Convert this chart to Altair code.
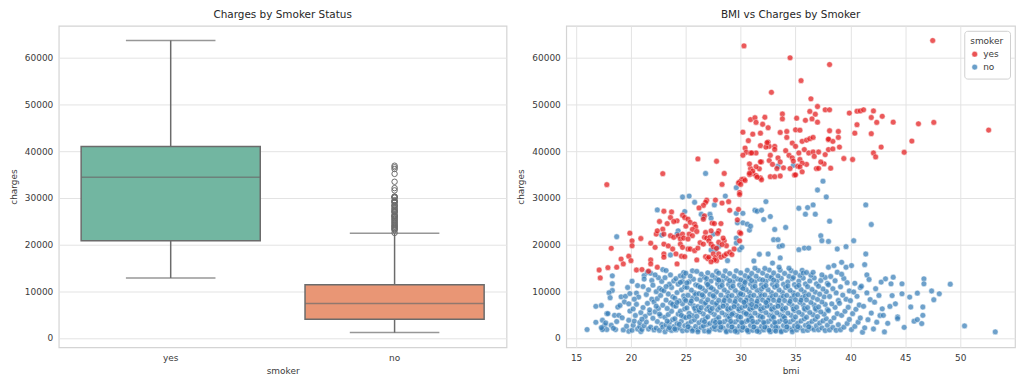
import altair as alt
import pandas as pd

# ---------------- Box plot data (left panel) ----------------
smoker_cats = ["yes", "no"]
box_q1 = [20826, 3986]
box_median = [34456, 7345]
box_q3 = [41019, 11363]
box_low = [12829, 1122]
box_high = [63770, 22412]
no_outliers = [22493, 23082, 23288, 23401, 23568, 23807, 23887, 24106, 24227, 24513,
               24667, 24915, 25081, 25333, 25517, 25678, 25992, 26018, 26140, 26236,
               26467, 26926, 27000, 27117, 27346, 27533, 27724, 27941, 28287, 28340,
               28468, 28923, 29141, 29186, 29330, 29523, 30063, 30166, 30260, 30284,
               31620, 32108, 33471, 35160, 36197, 36580, 36910]

# ---------------- Scatter data (right panel) ----------------
red_points = [
    (30.3, 62600), (34.5, 60050), (38.1, 58600), (47.5, 63750), (35.5, 55150), (32.8, 52650),
    (36.4, 51250), (52.6, 44550), (37.0, 49600), (37.7, 48900), (38.1, 48900), (36.3, 48550),
    (36.8, 47950), (33.8, 48000), (39.9, 48200), (40.6, 48600), (40.9, 48650), (41.2, 48900),
    (42.1, 48650), (41.9, 47250), (42.9, 47500), (42.4, 46200), (43.9, 46250), (46.2, 45900),
    (47.6, 46200), (40.6, 45700), (30.9, 46800), (31.3, 47200), (32.2, 47300), (31.4, 46200),
    (32.0, 45800), (32.5, 45050), (33.8, 46950), (35.1, 47100), (35.9, 46650), (36.5, 46950),
    (37.0, 46250), (30.2, 44100), (30.7, 42280), (31.1, 43680), (31.8, 43890), (32.5, 41980),
    (31.8, 41210), (32.6, 41060), (33.1, 41060), (33.6, 44040), (34.2, 44250), (34.2, 42980),
    (34.7, 41770), (35.0, 44610), (35.4, 44530), (35.6, 42130), (36.0, 42400), (36.3, 42700),
    (36.6, 42980), (30.4, 40700), (30.5, 39790), (30.9, 39640), (31.4, 39640), (31.9, 37720),
    (32.6, 38020), (33.4, 38580), (33.6, 37720), (34.1, 40140), (34.4, 39150), (34.7, 38580),
    (35.0, 41060), (35.3, 39640), (35.8, 40360), (36.2, 39640), (36.6, 39850), (37.1, 39850),
    (37.7, 39290), (38.0, 40360), (38.0, 42490), (38.1, 44400), (38.9, 44250), (38.4, 42130),
    (38.0, 42620), (38.9, 42980), (38.4, 40500), (39.0, 40910), (40.4, 43890), (41.9, 43770),
    (42.8, 40910), (42.1, 39640), (42.3, 38790), (44.9, 39790), (45.6, 42200), (37.6, 37300),
    (38.2, 36380), (39.4, 38450), (40.2, 38240), (36.0, 37200), (36.7, 38900), (35.4, 38250),
    (35.6, 37450), (35.2, 36800), (35.4, 36650), (34.9, 34900), (35.0, 34950), (35.6, 35600),
    (34.5, 36300), (33.9, 36450), (33.3, 36300), (32.9, 37200), (34.8, 37900), (31.8, 37750),
    (31.7, 36250), (31.4, 36700), (30.9, 36300), (31.1, 35200), (30.8, 35000), (30.8, 37300),
    (31.1, 35750), (31.4, 34800), (31.8, 34300), (31.9, 33900), (31.5, 34450), (30.8, 35300),
    (30.3, 34050), (30.1, 33950), (29.9, 33450), (29.8, 33200), (30.4, 33750), (30.0, 32900),
    (29.9, 31150), (29.9, 30750), (29.8, 27550), (29.7, 25300), (29.9, 22600), (30.0, 22400),
    (32.7, 34550), (33.1, 34550), (33.6, 34700), (36.9, 36300), (37.1, 36350), (37.3, 37700),
    (32.3, 40900), (32.4, 41850), (33.1, 40400), (32.7, 39150), (31.0, 39650), (30.2, 39150),
    (26.1, 38360), (27.8, 37870), (28.5, 35250), (17.8, 32850), (22.9, 35200), (28.3, 32900),
    (26.9, 29500), (26.8, 29050), (27.7, 29550), (28.3, 28900), (28.9, 29200), (26.6, 28400),
    (26.2, 27850), (29.0, 27350), (23.0, 27150), (23.7, 27000), (24.7, 26300), (24.9, 25800),
    (24.2, 25100), (23.6, 25800), (23.9, 24950), (22.6, 24950), (23.3, 24500), (22.9, 23300),
    (22.3, 22250), (23.0, 22250), (26.7, 26150), (26.6, 25450), (27.4, 24600), (27.6, 24500),
    (27.3, 22950), (26.8, 22600), (28.2, 24500), (28.0, 22950), (27.9, 22400), (19.9, 22450),
    (20.9, 21300), (20.1, 20800), (20.1, 19750), (18.2, 19200), (18.7, 15150), (19.1, 16900),
    (19.3, 15850), (19.8, 17500), (20.0, 16550), (17.1, 14550), (17.2, 12850), (20.5, 14550),
    (21.8, 20300), (22.2, 19400), (21.8, 16700), (21.8, 15850), (21.6, 14300), (22.4, 15150),
    (23.0, 18000), (23.0, 17300), (23.0, 20100), (23.4, 19700), (23.8, 19050), (24.1, 18000),
    (23.6, 21900), (23.9, 21550), (24.3, 21900), (24.5, 21200), (24.7, 22250), (24.8, 21400),
    (25.2, 25450), (25.4, 24750), (25.0, 23950), (25.8, 24400), (25.9, 23800), (25.6, 23250),
    (26.0, 22800), (25.3, 22250), (25.6, 21900), (25.2, 21200), (24.5, 20100), (24.7, 19400),
    (25.2, 19050), (25.4, 19050), (24.6, 17500), (24.9, 17400), (24.2, 15850), (25.8, 18700),
    (26.1, 19250), (26.0, 16700), (26.3, 20400), (26.6, 20100), (26.7, 21550), (26.9, 21400),
    (27.2, 21550), (27.1, 20800), (26.8, 17400), (27.0, 17000), (27.1, 17300), (27.3, 20100),
    (27.5, 19550), (27.8, 19200), (27.5, 18000), (27.7, 17200), (27.8, 16550), (28.0, 18000),
    (28.2, 17300), (28.5, 17600), (28.7, 18000), (28.5, 20800), (28.7, 19750), (28.0, 20500),
    (29.0, 18350), (29.2, 17850), (29.4, 19050), (29.9, 20800), (27.6, 16700), (27.3, 16300),
    (28.3, 20000), (28.4, 21400), (22.4, 22950), (17.9, 15050), (21.0, 14650),
]

blue_points = [
    # scattered high values
    (18.7, 21680), (22.4, 27430), (22.8, 22030), (23.6, 17770), (24.3, 22950), (24.2, 22250),
    (24.7, 30200), (25.3, 30400), (24.9, 27080), (25.8, 29070), (26.8, 35250), (26.4, 26500),
    (26.6, 25800), (27.2, 26500), (27.3, 25650), (27.6, 28500), (28.6, 30400), (28.8, 16550),
    (27.5, 22250), (27.7, 18900), (28.0, 19600), (27.3, 18830), (29.6, 21400), (29.6, 20330),
    (29.9, 18900), (30.1, 19400), (29.6, 32200), (29.6, 26700), (30.2, 26700), (29.7, 24660),
    (30.2, 24660), (30.6, 24380), (30.8, 23100), (30.9, 23950), (31.3, 27360), (31.5, 27150),
    (31.9, 27360), (32.1, 25370), (32.3, 29210), (32.7, 26010), (33.1, 23240), (33.0, 21040),
    (33.4, 21040), (33.5, 19600), (33.8, 19760), (33.6, 17130), (34.1, 23670), (33.4, 36800),
    (34.8, 37000), (35.3, 27790), (36.1, 27930), (36.6, 28500), (35.9, 26510), (36.8, 26510),
    (37.0, 31700), (37.5, 33600), (37.8, 30210), (38.1, 25020), (35.3, 18900), (35.8, 19260),
    (36.2, 19260), (37.3, 21890), (37.4, 20820), (38.0, 20680), (38.8, 19050), (39.6, 19550),
    (40.3, 20820), (41.4, 28500), (41.9, 24300), (41.4, 17980), (41.3, 15700), (41.5, 13500),
    (38.0, 15140), (38.5, 15500), (39.2, 16200), (39.6, 15140), (40.1, 15500), (21.1, 11000),
    (21.2, 13350), (21.5, 14070), (21.8, 13860), (22.9, 14640), (23.2, 14430),
    # bmi 16-22
    (16.0, 1780), (16.8, 6750), (16.8, 3340), (17.3, 6950), (17.4, 3770), (17.4, 1990),
    (17.6, 2700), (17.8, 1780), (17.4, 1780), (17.8, 5200), (17.3, 2200), (17.7, 3200),
    (18.3, 13300), (18.3, 11600), (18.3, 10150), (18.0, 9670), (17.9, 5200), (18.5, 4830),
    (18.9, 4830), (18.6, 1780), (18.2, 2700), (18.4, 2050), (18.8, 6600), (18.1, 8600),
    (18.7, 3500), (19.1, 8800), (19.5, 8900), (19.4, 7700), (19.0, 6950), (19.8, 7300),
    (19.9, 5750), (19.8, 3770), (19.8, 1420), (19.3, 1700), (19.6, 2500), (19.2, 4300),
    (19.9, 9500), (19.7, 10800), (20.1, 12150), (20.1, 1630), (20.2, 2700), (20.5, 9600),
    (20.7, 8750), (20.3, 3600), (20.4, 4800), (20.6, 1900), (20.8, 2400), (20.2, 6200),
    (20.9, 5400), (20.5, 7200), (20.8, 3300), (20.3, 8300), (20.6, 11200), (20.9, 1350),
    (21.0, 1800), (21.2, 2600), (21.4, 3400), (21.6, 1900), (21.8, 2300), (21.3, 4600),
    (21.7, 5300), (21.1, 6500), (21.5, 7400), (21.9, 8300), (21.4, 9300), (21.6, 10300),
    (21.9, 12300), (21.2, 12600), (21.7, 6000), (21.0, 4000),
    # bmi 22-26
    (22.1, 1700), (22.3, 2100), (22.6, 1600), (22.8, 2900), (22.4, 3500), (22.0, 4200),
    (22.7, 4700), (22.2, 5600), (22.5, 6300), (22.9, 7000), (22.1, 7700), (22.4, 8400),
    (22.7, 9100), (22.3, 9900), (22.6, 10600), (22.0, 11300), (22.8, 12100), (22.5, 12900),
    (22.2, 13500), (22.9, 2300), (22.6, 5100), (22.3, 6800), (22.8, 10300),
    (23.1, 1300), (23.4, 1900), (23.7, 1600), (23.9, 2400), (23.2, 2800), (23.5, 3300),
    (23.8, 3900), (23.1, 4400), (23.4, 5000), (23.7, 5700), (23.3, 6300), (23.9, 6900),
    (23.6, 7500), (23.2, 8100), (23.8, 8800), (23.4, 9400), (23.0, 10100), (23.7, 10800),
    (23.5, 11500), (23.9, 12200), (23.1, 12900), (23.6, 13500), (23.3, 3600), (23.8, 7200),
    (23.2, 11000), (23.5, 2200),
    (24.1, 1700), (24.4, 2100), (24.7, 1500), (24.9, 2600), (24.2, 3100), (24.6, 3600),
    (24.0, 4100), (24.8, 4500), (24.3, 5100), (24.5, 5700), (24.9, 6200), (24.1, 6800),
    (24.7, 7300), (24.4, 7900), (24.0, 8500), (24.8, 9000), (24.2, 9700), (24.6, 10300),
    (24.9, 10900), (24.3, 11500), (24.7, 12100), (24.1, 12700), (24.5, 13300), (24.8, 14000),
    (24.4, 2900), (24.6, 4800), (24.2, 7600), (24.9, 8300), (24.5, 11900), (24.0, 1900),
    (24.8, 13200),
    (25.1, 1620), (25.4, 2040), (25.7, 1810), (25.9, 2470), (25.2, 3020), (25.5, 3530),
    (25.8, 3870), (25.0, 4340), (25.6, 4780), (25.3, 5260), (25.9, 5830), (25.1, 6420),
    (25.7, 6880), (25.4, 7430), (25.0, 7980), (25.6, 8570), (25.2, 9130), (25.8, 9660),
    (25.5, 10240), (25.1, 10830), (25.9, 11370), (25.3, 12030), (25.7, 12580), (25.4, 13240),
    (25.0, 13860), (25.6, 14380), (25.2, 2380), (25.8, 6330), (25.5, 7870), (25.9, 9280),
    (25.1, 11790), (25.6, 1480), (25.3, 4530),
    # bmi 26-30
    (26.1, 1720), (26.4, 2240), (26.7, 1480), (26.9, 2860), (26.2, 3250), (26.5, 3740),
    (26.8, 4190), (26.0, 4630), (26.6, 5120), (26.3, 5580), (26.9, 6140), (26.1, 6690),
    (26.7, 7230), (26.4, 7810), (26.0, 8320), (26.6, 8870), (26.2, 9480), (26.8, 10040),
    (26.5, 10620), (26.1, 11190), (26.9, 11760), (26.3, 12420), (26.7, 12980), (26.4, 13660),
    (26.0, 14250), (26.6, 2530), (26.2, 5930), (26.8, 7520), (26.5, 9210), (26.3, 10880),
    (26.9, 12710), (26.1, 1290), (26.7, 3480), (26.4, 6470),
    (27.1, 1610), (27.4, 1980), (27.7, 1830), (27.9, 2720), (27.2, 3080), (27.5, 3620),
    (27.8, 3990), (27.0, 4510), (27.6, 5010), (27.3, 5470), (27.9, 6030), (27.1, 6580),
    (27.7, 7090), (27.4, 7640), (27.0, 8170), (27.6, 8740), (27.2, 9320), (27.8, 9830),
    (27.5, 10390), (27.1, 10960), (27.9, 11620), (27.3, 12180), (27.7, 12830), (27.4, 13390),
    (27.0, 13950), (27.8, 14230), (27.6, 2420), (27.2, 5840), (27.8, 7410), (27.5, 9030),
    (27.3, 10760), (27.9, 12520), (27.1, 1330), (27.7, 3310), (27.4, 6310), (27.0, 11420),
    (28.1, 1690), (28.4, 2130), (28.7, 1520), (28.9, 2610), (28.2, 3040), (28.5, 3470),
    (28.8, 3930), (28.0, 4380), (28.6, 4920), (28.3, 5360), (28.9, 5940), (28.1, 6520),
    (28.7, 6980), (28.4, 7530), (28.0, 8060), (28.6, 8620), (28.2, 9170), (28.8, 9740),
    (28.5, 10280), (28.1, 10910), (28.9, 11480), (28.3, 12090), (28.7, 12740), (28.4, 13280),
    (28.0, 13870), (28.6, 14330), (28.2, 2290), (28.8, 6240), (28.5, 8010), (28.9, 8880),
    (28.3, 11230), (28.7, 1310), (28.1, 3340), (28.4, 6790), (28.0, 12380), (28.9, 4690),
    (29.1, 1580), (29.4, 2020), (29.7, 1790), (29.9, 2530), (29.2, 2980), (29.5, 3420),
    (29.8, 3880), (29.0, 4320), (29.6, 4830), (29.3, 5290), (29.9, 5820), (29.1, 6370),
    (29.7, 6920), (29.4, 7420), (29.0, 7960), (29.6, 8480), (29.2, 9080), (29.8, 9620),
    (29.5, 10170), (29.1, 10790), (29.9, 11370), (29.3, 11980), (29.7, 12630), (29.4, 13180),
    (29.0, 13790), (29.6, 14380), (29.2, 2330), (29.8, 6180), (29.5, 7790), (29.9, 9040),
    (29.3, 11090), (29.7, 1280), (29.1, 3520), (29.4, 6680), (29.0, 12270), (29.8, 4570),
    (29.5, 1420), (29.2, 5030),
    # bmi 30-34
    (30.1, 1660), (30.4, 2090), (30.7, 1540), (30.9, 2640), (30.2, 3130), (30.5, 3560),
    (30.8, 4020), (30.0, 4460), (30.6, 4970), (30.3, 5430), (30.9, 5960), (30.1, 6480),
    (30.7, 7040), (30.4, 7560), (30.0, 8090), (30.6, 8640), (30.2, 9230), (30.8, 9760),
    (30.5, 10340), (30.1, 10870), (30.9, 11530), (30.3, 12140), (30.7, 12690), (30.4, 13340),
    (30.0, 13920), (30.6, 14470), (30.2, 2270), (30.8, 6230), (30.5, 8030), (30.9, 8930),
    (30.3, 11180), (30.7, 1330), (30.1, 3290), (30.4, 6810), (30.0, 12420), (30.9, 4730),
    (30.6, 1610), (30.3, 7630), (30.8, 13020), (30.2, 10540), (30.5, 5190), (30.7, 3770),
    (30.0, 9450), (30.4, 11890),
    (31.1, 1630), (31.4, 2010), (31.7, 1770), (31.9, 2480), (31.2, 3020), (31.5, 3390),
    (31.8, 3920), (31.0, 4280), (31.6, 4810), (31.3, 5320), (31.9, 5790), (31.1, 6410),
    (31.7, 6930), (31.4, 7380), (31.0, 8020), (31.6, 8530), (31.2, 9140), (31.8, 9580),
    (31.5, 10230), (31.1, 10820), (31.9, 11380), (31.3, 12030), (31.7, 12590), (31.4, 13230),
    (31.0, 13820), (31.6, 14420), (31.2, 2320), (31.8, 6170), (31.5, 7820), (31.9, 9010),
    (31.3, 11070), (31.7, 1290), (31.1, 3530), (31.4, 6720), (31.0, 12290), (31.8, 4610),
    (31.5, 1430), (31.2, 16480), (31.7, 17920), (31.3, 14930), (31.9, 10500), (31.0, 7150),
    (32.1, 1710), (32.4, 2150), (32.7, 1490), (32.9, 2570), (32.2, 3090), (32.5, 3510),
    (32.8, 4040), (32.0, 4420), (32.6, 4880), (32.3, 5410), (32.9, 5920), (32.1, 6460),
    (32.7, 7010), (32.4, 7480), (32.0, 8110), (32.6, 8590), (32.2, 9190), (32.8, 9690),
    (32.5, 10310), (32.1, 10930), (32.9, 11470), (32.3, 12130), (32.7, 12720), (32.4, 13310),
    (32.0, 13880), (32.6, 14540), (32.2, 2310), (32.8, 6190), (32.5, 8040), (32.9, 8870),
    (32.3, 11210), (32.7, 1320), (32.1, 3310), (32.4, 6830), (32.0, 12410), (32.9, 4720),
    (32.6, 1620), (32.3, 7590), (32.8, 13040), (32.5, 17980), (32.9, 16040), (32.2, 14880),
    (33.1, 1680), (33.4, 2120), (33.7, 1510), (33.9, 2630), (33.2, 3060), (33.5, 3480),
    (33.8, 3960), (33.0, 4390), (33.6, 4940), (33.3, 5380), (33.9, 5910), (33.1, 6540),
    (33.7, 6990), (33.4, 7550), (33.0, 8070), (33.6, 8610), (33.2, 9210), (33.8, 9720),
    (33.5, 10260), (33.1, 10890), (33.9, 11490), (33.3, 12110), (33.7, 12760), (33.4, 13290),
    (33.0, 13910), (33.6, 14510), (33.2, 2280), (33.8, 6210), (33.5, 8020), (33.9, 8910),
    (33.3, 11190), (33.7, 1310), (33.1, 3320), (33.4, 6770), (33.0, 12390), (33.9, 4680),
    (33.5, 15140), (33.2, 1450),
    # bmi 34-38
    (34.1, 1640), (34.4, 2060), (34.7, 1790), (34.9, 2540), (34.2, 3010), (34.5, 3430),
    (34.8, 3890), (34.0, 4340), (34.6, 4850), (34.3, 5310), (34.9, 5840), (34.1, 6390),
    (34.7, 6940), (34.4, 7430), (34.0, 7990), (34.6, 8510), (34.2, 9110), (34.8, 9640),
    (34.5, 10190), (34.1, 10810), (34.9, 11410), (34.3, 12010), (34.7, 12660), (34.4, 13210),
    (34.0, 13810), (34.6, 14390), (34.2, 2340), (34.8, 6160), (34.5, 7810), (34.9, 9060),
    (34.3, 11120), (34.7, 1300), (34.1, 3540), (34.4, 14920), (34.8, 12950),
    (35.1, 1700), (35.4, 2180), (35.7, 1530), (35.9, 2690), (35.2, 3150), (35.5, 3610),
    (35.8, 4080), (35.0, 4490), (35.6, 5020), (35.3, 5480), (35.9, 6010), (35.1, 6560),
    (35.7, 7080), (35.4, 7620), (35.0, 8150), (35.6, 8690), (35.2, 9260), (35.8, 9790),
    (35.5, 10360), (35.1, 10940), (35.9, 11560), (35.3, 12170), (35.7, 12810), (35.4, 13370),
    (35.0, 13960), (35.6, 14480), (35.2, 2390), (35.8, 6280), (35.5, 8060), (35.9, 8960),
    (35.3, 11260), (35.7, 13900),
    (36.1, 1650), (36.4, 2080), (36.7, 1760), (36.9, 2590), (36.2, 3070), (36.5, 3530),
    (36.8, 3980), (36.0, 4430), (36.6, 4960), (36.3, 5440), (36.9, 5970), (36.1, 6510),
    (36.7, 7050), (36.4, 7590), (36.0, 8130), (36.6, 8660), (36.2, 9240), (36.8, 9810),
    (36.5, 10380), (36.1, 10970), (36.9, 11590), (36.3, 12200), (36.7, 12850), (36.4, 13420),
    (36.0, 14010), (36.6, 14050), (36.2, 2360), (36.8, 6290),
    (37.1, 1720), (37.4, 2140), (37.7, 1560), (37.9, 2700), (37.2, 3180), (37.5, 3640),
    (37.8, 4110), (37.0, 4560), (37.6, 5080), (37.3, 5560), (37.9, 6090), (37.1, 6630),
    (37.7, 7170), (37.4, 7700), (37.0, 8240), (37.6, 8790), (37.2, 9360), (37.8, 9900),
    (37.5, 10480), (37.1, 11060), (37.9, 11680), (37.3, 12300), (37.7, 12940), (37.4, 13500),
    # bmi 38+
    (38.1, 1690), (38.4, 2230), (38.7, 1610), (38.9, 2810), (38.2, 3470), (38.5, 4290),
    (38.8, 5180), (38.0, 5830), (38.6, 6540), (38.3, 7290), (38.9, 8010), (38.1, 8870),
    (38.7, 9640), (38.4, 10530), (38.0, 11380), (38.6, 12240), (38.2, 13160), (38.8, 14090),
    (39.1, 1740), (39.4, 2290), (39.7, 3080), (39.9, 3960), (39.2, 4820), (39.5, 5690),
    (39.8, 6560), (39.0, 7410), (39.6, 8290), (39.3, 9180), (39.9, 10060), (39.1, 10940),
    (39.7, 11830), (39.4, 12740), (39.2, 13640),
    (40.1, 1780), (40.4, 2460), (40.7, 3350), (40.9, 4260), (40.2, 5190), (40.5, 6120),
    (40.8, 7040), (40.0, 7980), (40.6, 8910), (40.3, 9830), (40.9, 10770), (40.4, 11700),
    (41.1, 1210), (41.3, 2150), (41.6, 3890), (41.9, 5320), (41.2, 6770), (41.8, 8210),
    (41.5, 9640), (41.0, 11080), (41.7, 12510),
    (42.1, 1900), (42.4, 3360), (42.7, 4790), (42.9, 6220), (42.2, 7660), (42.6, 9090),
    (42.3, 10530), (42.8, 11960),
    (43.2, 12650), (43.9, 13000), (43.7, 11580), (43.0, 4830), (43.1, 1280), (43.4, 3120),
    (43.6, 6740), (43.8, 9060), (44.7, 11580), (44.7, 9450), (44.3, 4480), (44.3, 4120),
    (44.1, 7300), (44.9, 2250), (45.4, 8740), (45.5, 6610), (45.8, 3570), (46.1, 9590),
    (46.7, 12650), (46.7, 11580), (46.1, 3910), (46.6, 6610), (46.6, 4830), (46.5, 3060),
    (47.6, 8170), (48.1, 9450), (49.1, 11510), (50.4, 2560), (53.2, 1280), (47.4, 10050),
]

# ---------------- Build tables ----------------
box_df = pd.DataFrame({"smoker": smoker_cats, "q1": box_q1, "median": box_median,
                       "q3": box_q3, "low": box_low, "high": box_high})
out_df = pd.DataFrame({"smoker": ["no"] * len(no_outliers), "charges": no_outliers})
scatter_df = pd.DataFrame(
    [{"bmi": b, "charges": c, "smoker": "no"} for b, c in blue_points]
    + [{"bmi": b, "charges": c, "smoker": "yes"} for b, c in red_points]
)

FONT = "DejaVu Sans"
GRAY = "#6b6b6b"
TXT = "#3a3a3a"
y_ticks = [0, 10000, 20000, 30000, 40000, 50000, 60000]
y_scale = alt.Scale(domain=[-2011, 66902], nice=False, zero=False)

def y_axis():
    return alt.Axis(title="charges", values=y_ticks, format="d", ticks=False, domain=False,
                    labelPadding=6, titlePadding=6)

x_box = alt.X("smoker:N", sort=smoker_cats,
              scale=alt.Scale(domain=smoker_cats, paddingInner=0, paddingOuter=0),
              axis=alt.Axis(title="smoker", labelAngle=0, ticks=False, domain=False,
                            grid=False, labelPadding=6, titlePadding=4))

W, H = 450, 323
base = alt.Chart(box_df)
whisk = base.mark_rule(color=GRAY, strokeWidth=1.5).encode(
    x=x_box, y=alt.Y("low:Q", scale=y_scale, axis=y_axis()), y2="high:Q")
boxes = base.mark_bar(width=alt.RelativeBandSize(0.8), stroke=GRAY, strokeWidth=1.5).encode(
    x=x_box, y=alt.Y("q1:Q", scale=y_scale), y2="q3:Q",
    color=alt.Color("smoker:N", scale=alt.Scale(domain=smoker_cats, range=["#72b6a1", "#e99675"]),
                    legend=None))
med = base.mark_tick(size=180, thickness=1.5, color=GRAY).encode(
    x=x_box, y=alt.Y("median:Q", scale=y_scale))
cap_lo = base.mark_tick(size=90, thickness=1.5, color=GRAY).encode(
    x=x_box, y=alt.Y("low:Q", scale=y_scale))
cap_hi = base.mark_tick(size=90, thickness=1.5, color=GRAY).encode(
    x=x_box, y=alt.Y("high:Q", scale=y_scale))
outs = alt.Chart(out_df).mark_point(shape="circle", filled=False, size=30, color=GRAY,
                                    strokeWidth=1, opacity=1).encode(
    x=x_box, y=alt.Y("charges:Q", scale=y_scale))

left = alt.layer(whisk, boxes, med, cap_lo, cap_hi, outs).properties(
    width=W, height=H, title="Charges by Smoker Status")

scatter = alt.Chart(scatter_df).mark_circle(size=34, opacity=0.72, stroke="white",
                                            strokeWidth=0.5).encode(
    x=alt.X("bmi:Q", scale=alt.Scale(domain=[14.1, 55.0], nice=False, zero=False),
            axis=alt.Axis(title="bmi", values=[15, 20, 25, 30, 35, 40, 45, 50], ticks=False,
                          domain=False, labelPadding=6, titlePadding=4)),
    y=alt.Y("charges:Q", scale=y_scale, axis=y_axis()),
    color=alt.Color("smoker:N", scale=alt.Scale(domain=["yes", "no"], range=["#e41a1c", "#377eb8"]),
                    legend=alt.Legend(title="smoker", orient="top-right", offset=5,
                                      fillColor="white", strokeColor="#d0d0d0",
                                      padding=6, cornerRadius=3, symbolSize=34,
                                      symbolOpacity=0.75, symbolStrokeColor="white",
                                      symbolStrokeWidth=0.5, rowPadding=3,
                                      titleFontSize=9, labelFontSize=9,
                                      titleFontWeight="normal", titlePadding=4)),
).properties(width=451, height=H, title="BMI vs Charges by Smoker")

chart = alt.hconcat(left, scatter, spacing=8).resolve_scale(color="independent").properties(
    padding={"left": 0, "top": 0, "right": 0, "bottom": 0}
).configure_view(stroke="#d4d4d4", strokeWidth=1.2).configure_axis(
    gridColor="#e3e3e3", gridWidth=1, labelFont=FONT, titleFont=FONT, labelFontSize=9,
    titleFontSize=9, labelColor=TXT, titleColor=TXT, titleFontWeight="normal"
).configure_title(font=FONT, fontSize=10.5, fontWeight="normal", color="#262626", offset=5
).configure_legend(labelFont=FONT, titleFont=FONT, labelColor=TXT, titleColor=TXT)

chart.save("out.html", embed_options={"renderer": "svg", "actions": False})
